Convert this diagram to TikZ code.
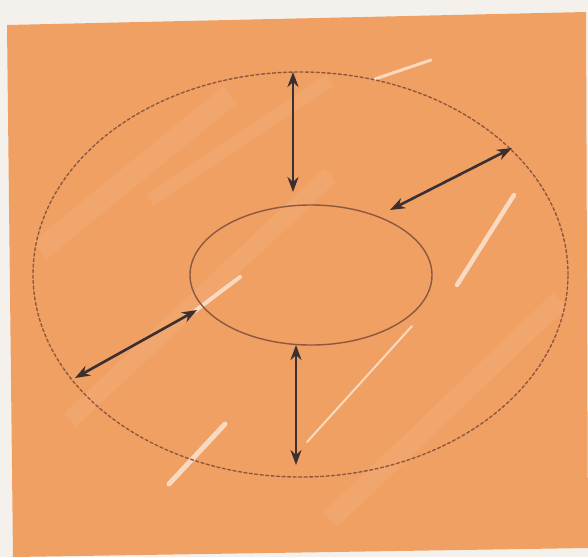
\documentclass[tikz,border=0pt]{standalone}
\usetikzlibrary{arrows.meta, shapes.geometric, positioning}
\definecolor{paper}{HTML}{F4F1EC}
\definecolor{crayon}{HTML}{F0A062}
\definecolor{pencil}{HTML}{8E573F}
\definecolor{ink}{HTML}{3B2F30}
\tikzset{el/.style={line cap=round, line join=round},
  dbl/.style={ink, line width=2.6pt, {Stealth[length=15pt,width=11pt]}-{Stealth[length=15pt,width=11pt]}},
  ring/.style={draw=pencil, ellipse, inner sep=0pt, outer sep=0pt, line width=1.4pt}}

\begin{document}
\begin{tikzpicture}[el, x=1pt, y=-1pt]
  \fill[paper] (0,0) rectangle (588,557);
  \useasboundingbox (0,0) rectangle (588,557);
  \fill[crayon] (7,25) -- (586,12) -- (588,548) -- (13,557) -- cycle;
  % light crayon bands
  \foreach \a/\b/\c/\d/\w in {40/250/230/95/22, 70/420/330/175/18, 330/520/560/300/20, 150/200/330/80/14}{
     \draw[white, opacity=0.07, line width=\w pt, line cap=butt] (\a,\b) -- (\c,\d);}
  \foreach \a/\b/\c/\d/\w in {375/79/431/60/3, 457/285/514/195/4.5, 169/484/225/424/5, 195/311/240/277/4, 307/442/412/326/2}{
     \draw[white, opacity=0.6, line width=\w pt] (\a,\b) -- (\c,\d);}
  \node[ring, dash pattern=on 3pt off 2.5pt, minimum width=535pt, minimum height=405pt] (zone) at (300.5,274.5) {};
  \node[ring, minimum width=242pt, minimum height=140pt] (core) at (311,275) {};
  \coordinate (zt) at (293,72);  \coordinate (ct) at (293,192);
  \coordinate (zr) at (512,148); \coordinate (cr) at (390,210);
  \coordinate (zl) at (75,378);  \coordinate (cl) at (197,310);
  \coordinate (zb) at (296,465); \coordinate (cb) at (296,345);
  \draw[dbl] (zt) -- (ct);
  \draw[dbl] (zr) -- (cr);
  \draw[dbl] (zl) -- (cl);
  \draw[dbl] (cb) -- (zb);
\end{tikzpicture}
\end{document}
